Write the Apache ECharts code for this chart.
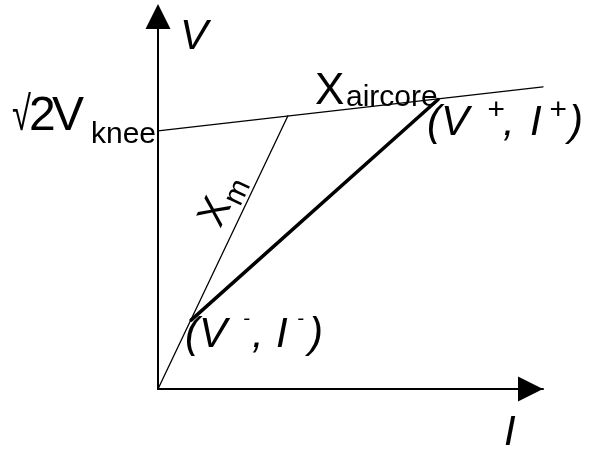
<!DOCTYPE html>
<html>
<head>
<meta charset="utf-8">
<script src="https://cdn.jsdelivr.net/npm/echarts@6/dist/echarts.min.js"></script>
<style>
  html, body { margin: 0; padding: 0; background: #fff; }
  #chart { width: 589px; height: 450px; }
</style>
</head>
<body>
<div id="chart"></div>
<script>
// V–I characteristic sketch: magnetising branch X_m up to the knee,
// air-core branch beyond it, and the chord from (V-, I-) to (V+, I+).
// Points are [I, V] in axis units.
const iMax = 103.5;
const vMax = 100;
const xmBranch = [[0, 0], [34.9, 73.3]];
const aircoreBranch = [[0, 69.3], [103.5, 81.1]];
const chord = [[8.9, 18.5], [75.3, 77.7]];

const FONT = '"Liberation Sans", Arial, Helvetica, sans-serif';

// Text piece placed by its left edge and alphabetic baseline.
function piece(s, x, base, size, italic, scaleX) {
  return {
    type: 'text',
    x: x,
    y: base - 0.3465 * size,
    scaleX: scaleX || 1,
    silent: true,
    style: {
      text: s,
      font: (italic ? 'italic ' : '') + size + 'px ' + FONT,
      fill: '#000',
      align: 'left',
      verticalAlign: 'middle'
    }
  };
}

const chart = echarts.init(document.getElementById('chart'), null, { renderer: 'canvas' });

function lineSeries(data, width) {
  return {
    type: 'line',
    data: data,
    symbol: 'none',
    clip: false,
    silent: true,
    lineStyle: { color: '#000', width: width, cap: 'round' }
  };
}

function axis(max, arrowBack) {
  return {
    type: 'value',
    min: 0,
    max: max,
    axisLine: {
      show: true,
      onZero: false,
      symbol: ['none', 'triangle'],
      symbolSize: [25, 25],
      symbolOffset: [0, arrowBack],
      lineStyle: { color: '#000', width: 2 }
    },
    axisTick: { show: false },
    axisLabel: { show: false },
    splitLine: { show: false }
  };
}

chart.setOption({
  animation: false,
  backgroundColor: '#fff',
  grid: {
    left: 158,
    right: 46,
    top: 16.5,
    bottom: 61,
    containLabel: false,
    outerBoundsMode: 'none'
  },
  xAxis: axis(iMax, -12.5),
  yAxis: axis(vMax, 0),
  series: [
    lineSeries(xmBranch, 1.3),
    lineSeries(aircoreBranch, 1.3),
    lineSeries(chord, 3.5)
  ]
});

// Labels, anchored to the points they annotate.
const px = p => chart.convertToPixel({ gridIndex: 0 }, p);
const o = px([0, 0]);
const lo = px(chord[0]);        // (V-, I-)
const hi = px(chord[1]);        // (V+, I+)
const vk = px(aircoreBranch[0]);
const knee = px(xmBranch[1]);
const xmAngle = Math.atan2(o[1] - knee[1], knee[0] - o[0]);

const labels = [
  // axis names
  piece('V', 180, 52, 42, true),
  piece('I', 504, 448, 42, true),
  // knee voltage on the V axis
  piece('\u221A', vk[0] - 146, vk[1] + 3, 48, false, 0.72),
  piece('2', vk[0] - 129, vk[1] + 3, 48, false),
  piece('V', vk[0] - 106, vk[1] + 3, 48, false),
  piece('knee', vk[0] - 67, vk[1] + 14, 30, false),
  // air-core reactance
  piece('X', 315, 107, 44, false),
  piece('aircore', 346, 108, 30, false),
  // upper point
  piece('(V', hi[0] - 11, hi[1] + 38, 42, true),
  piece('+', hi[0] + 49, hi[1] + 21, 30, true),
  piece(',', hi[0] + 65, hi[1] + 38, 42, true),
  piece('I', hi[0] + 92, hi[1] + 38, 42, true),
  piece('+', hi[0] + 111, hi[1] + 21, 30, true),
  piece(')', hi[0] + 131, hi[1] + 38, 42, true),
  // lower point
  piece('(V', lo[0] - 6, lo[1] + 30, 42, true),
  piece('-', lo[0] + 52, lo[1] + 6, 21, true),
  piece(',', lo[0] + 61, lo[1] + 30, 42, true),
  piece('I', lo[0] + 85, lo[1] + 30, 42, true),
  piece('-', lo[0] + 106, lo[1] + 6, 21, true),
  piece(')', lo[0] + 118, lo[1] + 30, 42, true),
  // magnetising reactance, written along its branch
  {
    type: 'group',
    x: 222.7,
    y: 230.1,
    rotation: xmAngle,
    silent: true,
    children: [
      piece('X', 0, 0, 40, false),
      piece('m', 28, 8, 30, false)
    ]
  }
];

chart.setOption({ graphic: labels });
</script>
</body>
</html>
